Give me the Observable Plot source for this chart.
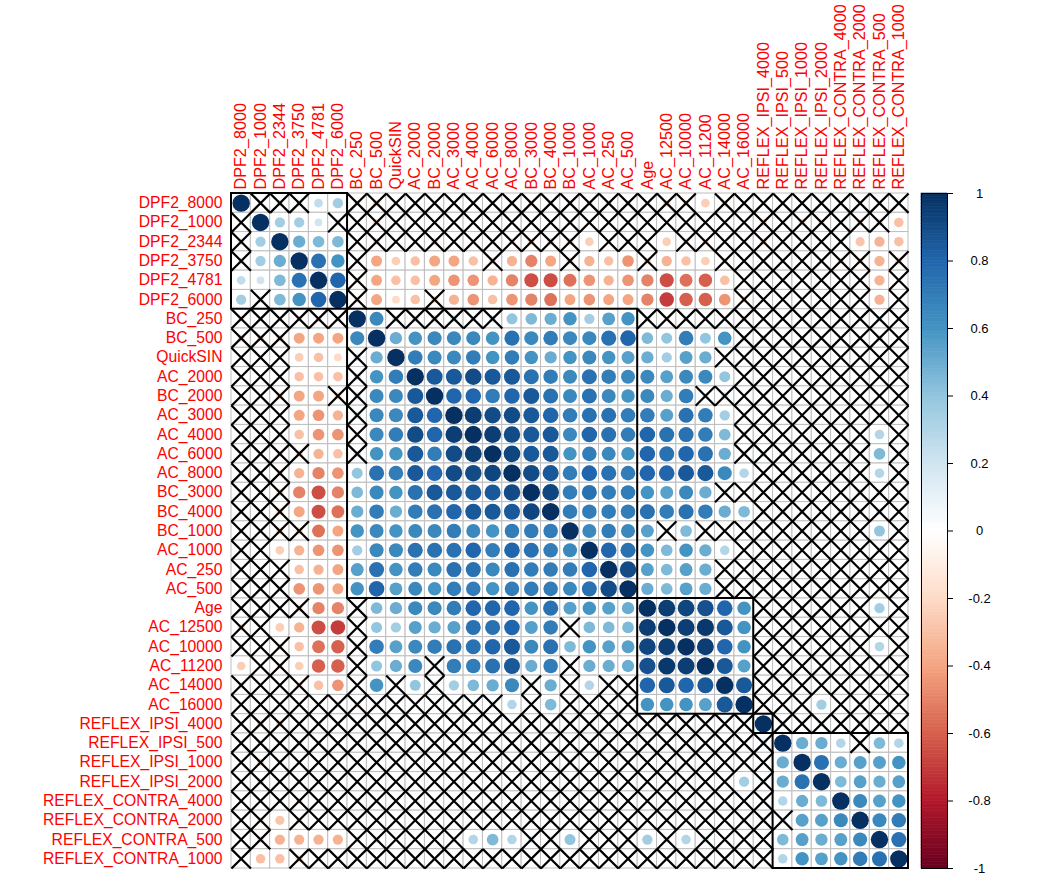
<!DOCTYPE html>
<html>
<head>
<meta charset="utf-8">
<script src="https://cdn.jsdelivr.net/npm/d3@7"></script>
<script src="https://cdn.jsdelivr.net/npm/@observablehq/plot@0.6"></script>
<style>
html, body { margin: 0; padding: 0; background: #fff; }
#wrap { position: relative; width: 1054px; height: 884px; }
#wrap svg { position: absolute; top: 0; }
</style>
</head>
<body>
<div id="wrap"></div>
<script>
// Variable names, in plotted (hclust) order
const labels = ["DPF2_8000","DPF2_1000","DPF2_2344","DPF2_3750","DPF2_4781","DPF2_6000",
  "BC_250","BC_500","QuickSIN","AC_2000","BC_2000","AC_3000","AC_4000","AC_6000","AC_8000",
  "BC_3000","BC_4000","BC_1000","AC_1000","AC_250","AC_500","Age","AC_12500","AC_10000",
  "AC_11200","AC_14000","AC_16000","REFLEX_IPSI_4000","REFLEX_IPSI_500","REFLEX_IPSI_1000",
  "REFLEX_IPSI_2000","REFLEX_CONTRA_4000","REFLEX_CONTRA_2000","REFLEX_CONTRA_500","REFLEX_CONTRA_1000"];

// Upper triangle: row i lists correlations with columns i+1..34; a trailing "x" marks a non-significant cell
const upperRows = [
  "0.02x 0.15x 0.15x 0.25 0.35 -0.13x -0.18x -0.05x -0.05x -0.03x 0.02x -0.03x -0.05x -0.13x -0.13x -0.13x -0.13x -0.13x -0.13x -0.13x -0.05x -0.18x -0.15x -0.25 -0.15x -0.03x 0.02x 0.05x 0.02x 0.02x 0.02x 0.02x 0.02x 0.02x",
  "0.35 0.35 0.2 0.15x 0.02x -0.18x -0.03x -0.03x -0.03x -0.03x -0.05x -0.03x -0.03x -0.1x -0.03x -0.1x -0.03x -0.03x -0.03x -0.03x -0.03x -0.03x -0.03x -0.03x -0.03x -0.18x -0.02x -0.18x -0.15x -0.05x -0.15x -0.15x -0.3",
  "0.5 0.45 0.45 0.02x -0.18x -0.03x -0.05x -0.18x -0.05x -0.13x -0.13x -0.15x -0.18x -0.18x -0.18x -0.25 -0.05x -0.13x -0.05x -0.25 -0.15x -0.15x -0.05x -0.03x -0.18x -0.03x -0.1x -0.03x -0.1x -0.28 -0.35 -0.3",
  "0.75 0.6 -0.13x -0.4 -0.25 -0.3 -0.4 -0.4 -0.3 -0.18x -0.35 -0.5 -0.4 -0.18x -0.35 -0.3 -0.45 -0.18x -0.35 -0.3 -0.25 -0.15x -0.03x -0.03x -0.1x -0.03x -0.1x -0.15x -0.15x -0.35 -0.18x",
  "0.8 -0.15x -0.4 -0.3 -0.3 -0.4 -0.45 -0.45 -0.35 -0.5 -0.65 -0.65 -0.55 -0.45 -0.35 -0.45 -0.5 -0.65 -0.55 -0.6 -0.3 -0.03x -0.03x -0.1x -0.03x -0.03x -0.03x -0.05x -0.35 -0.1x",
  "-0.13x -0.4 -0.2 -0.3 -0.18x -0.35 -0.45 -0.3 -0.45 -0.5 -0.55 -0.4 -0.45 -0.4 -0.4 -0.5 -0.7 -0.6 -0.6 -0.45 -0.15x -0.03x -0.03x -0.03x -0.03x -0.03x -0.03x -0.35 -0.1x",
  "0.65 0.18x 0.18x 0.18x 0.18x 0.13x 0.18x 0.4 0.45 0.5 0.6 0.35 0.55 0.6 0.13x 0.1x 0.15x 0.05x 0.03x -0.15x 0.02x 0.02x 0.02x 0.02x -0.13x 0.02x 0.13x 0.02x",
  "0.5 0.6 0.65 0.65 0.65 0.6 0.75 0.65 0.7 0.65 0.65 0.75 0.8 0.45 0.4 0.7 0.4 0.6 0.15x 0.15x 0.03x 0.02x 0.02x 0.02x 0.02x 0.15x 0.02x",
  "0.7 0.65 0.65 0.7 0.6 0.7 0.6 0.5 0.6 0.65 0.6 0.55 0.5 0.35 0.55 0.5 0.13x 0.02x 0.02x 0.02x 0.02x 0.02x -0.05x 0.02x 0.02x 0.02x",
  "0.85 0.85 0.9 0.85 0.85 0.75 0.7 0.65 0.75 0.7 0.65 0.65 0.55 0.65 0.65 0.4 0.05x 0.02x 0.02x 0.02x 0.02x 0.02x 0.02x 0.02x 0.02x",
  "0.8 0.8 0.7 0.8 0.85 0.75 0.65 0.75 0.65 0.6 0.65 0.5 0.7 0.15x 0.18x 0.02x 0.02x 0.02x 0.02x 0.02x 0.02x 0.02x 0.02x 0.02x",
  "0.95 0.9 0.9 0.85 0.8 0.7 0.75 0.75 0.7 0.7 0.55 0.75 0.7 0.35 0.13x 0.02x 0.02x 0.02x 0.02x 0.02x 0.02x 0.13x 0.02x",
  "0.95 0.9 0.85 0.85 0.65 0.8 0.75 0.7 0.8 0.75 0.75 0.7 0.45 0.15x 0.05x 0.02x 0.02x 0.02x 0.02x 0.02x 0.3 0.05x",
  "0.92 0.85 0.85 0.6 0.7 0.65 0.6 0.8 0.75 0.8 0.75 0.5 0.15x 0.15x 0.15x 0.02x 0.02x 0.13x 0.02x 0.45 0.15x",
  "0.9 0.85 0.7 0.8 0.75 0.7 0.8 0.8 0.85 0.85 0.65 0.3 0.02x 0.02x 0.02x 0.02x 0.02x 0.02x 0.3 0.02x",
  "0.92 0.7 0.75 0.7 0.7 0.6 0.55 0.65 0.5 0.15x 0.03x 0.02x 0.02x 0.02x 0.02x -0.05x 0.15x 0.15x 0.02x",
  "0.7 0.7 0.7 0.7 0.75 0.7 0.75 0.7 0.5 0.45 0.15x 0.15x 0.13x 0.05x 0.15x 0.15x 0.15x 0.02x",
  "0.65 0.7 0.65 0.55 0.13x 0.45 0.13x 0.05x -0.05x 0.02x 0.02x 0.13x 0.02x 0.02x 0.02x 0.4 0.02x",
  "0.8 0.75 0.6 0.45 0.6 0.5 0.3 0.03x 0.02x 0.02x 0.02x 0.02x 0.02x 0.02x 0.13x 0.02x",
  "0.9 0.55 0.45 0.55 0.5 0.13x 0.02x 0.02x 0.02x 0.02x 0.02x 0.02x 0.02x 0.1x 0.02x",
  "0.5 0.45 0.55 0.5 0.13x 0.02x 0.02x 0.02x 0.02x 0.02x 0.02x 0.02x 0.13x 0.02x",
  "0.95 0.92 0.88 0.8 0.6 0.02x 0.02x 0.02x 0.02x 0.02x 0.02x 0.35 0.02x",
  "0.95 0.97 0.85 0.6 0.02x 0.02x 0.02x 0.02x 0.02x 0.02x 0.15x 0.02x",
  "0.95 0.8 0.6 0.02x 0.02x 0.02x 0.02x 0.02x 0.02x 0.3 0.02x",
  "0.85 0.55 0.02x 0.02x 0.02x 0.02x 0.02x 0.02x 0.15x 0.15x",
  "0.85 0.02x 0.02x 0.02x 0.02x 0.02x 0.02x 0.02x 0.02x",
  "0.03x 0.03x 0.03x 0.35 0.03x 0.15x 0.03x 0.03x",
  "0.15x 0.03x 0.15x 0.03x 0.15x 0.03x 0.03x",
  "0.5 0.5 0.3 0.15x 0.45 0.3",
  "0.75 0.5 0.55 0.55 0.6",
  "0.45 0.55 0.5 0.55",
  "0.65 0.55 0.6",
  "0.65 0.7",
  "0.75",
  ""
];

// Hierarchical-cluster rectangles: [first index, last index]
const clusters = [[0, 5], [6, 20], [21, 26], [27, 27], [28, 34]];

// Colour bar ticks and RdBu palette stops (-1 .. 1)
const legendTicks = [1, 0.8, 0.6, 0.4, 0.2, 0, -0.2, -0.4, -0.6, -0.8, -1];
const paletteStops = [-1, -0.8, -0.6, -0.4, -0.2, 0, 0.2, 0.4, 0.6, 0.8, 1];
const rdbu = ["#67001F", "#B2182B", "#D6604D", "#F4A582", "#FDDBC7", "#FFFFFF",
              "#D1E5F0", "#92C5DE", "#4393C3", "#2166AC", "#053061"];

// ---- build the full symmetric table ----
const n = labels.length;
const V = Array.from({length: n}, () => new Array(n).fill(0));
const X = Array.from({length: n}, () => new Array(n).fill(false));
for (let i = 0; i < n; i++) {
  V[i][i] = 1;
  const toks = upperRows[i].trim().split(/\s+/).filter(t => t.length);
  toks.forEach((t, k) => {
    const j = i + 1 + k;
    if (j >= n) return;
    const v = parseFloat(t);
    const ins = t.endsWith("x");
    V[i][j] = V[j][i] = v;
    X[i][j] = X[j][i] = ins;
  });
}
const cells = [];
for (let i = 0; i < n; i++) for (let j = 0; j < n; j++) cells.push({i, j, v: V[i][j], insig: X[i][j]});

const colorScale = {type: "linear", domain: paletteStops, range: rdbu, interpolate: "rgb"};
const font = "'Liberation Sans', Arial, Helvetica, sans-serif";

const main = Plot.plot({
  width: 920, height: 884,
  marginLeft: 231, marginRight: 12, marginTop: 193, marginBottom: 16,
  style: {fontFamily: font, background: "transparent", overflow: "visible"},
  x: {domain: [0, n], axis: null},
  y: {domain: [n, 0], axis: null},
  r: {type: "sqrt", domain: [0, 1], range: [0, 8.7]},
  color: colorScale,
  marks: [
    Plot.rect(cells, {x1: "j", x2: d => d.j + 1, y1: "i", y2: d => d.i + 1,
      fill: "white", stroke: "#BEBEBE", strokeWidth: 1}),
    Plot.dot(cells, {x: d => d.j + 0.5, y: d => d.i + 0.5, r: d => Math.abs(d.v), fill: "v"}),
    Plot.dot(cells.filter(d => d.insig), {x: d => d.j + 0.5, y: d => d.i + 0.5,
      symbol: "times", r: 8.9, stroke: "black", strokeWidth: 2.2}),
    Plot.rect(clusters, {x1: d => d[0], x2: d => d[1] + 1, y1: d => d[0], y2: d => d[1] + 1,
      fill: "none", stroke: "black", strokeWidth: 2}),
    Plot.text(labels, {x: (d, i) => i + 0.5, y: 0, text: d => d, rotate: -90, textAnchor: "start",
      dy: -4, fill: "red", fontSize: 16.2}),
    Plot.text(labels, {x: 0, y: (d, i) => i + 0.5, text: d => d, textAnchor: "end",
      dx: -9, fill: "red", fontSize: 15.7})
  ]
});

// ---- colour bar ----
const barSlices = d3.range(200).map(k => ({lo: -1 + k * 0.01, hi: -1 + (k + 1) * 0.01}));
const legend = Plot.plot({
  width: 120, height: 884,
  marginLeft: 16, marginRight: 78, marginTop: 193, marginBottom: 16,
  style: {fontFamily: font, background: "transparent", overflow: "visible"},
  x: {domain: [0, 1], axis: null},
  y: {domain: [-1, 1], axis: null},
  color: colorScale,
  marks: [
    Plot.rect(barSlices, {x1: 0, x2: 1, y1: "lo", y2: "hi", fill: d => (d.lo + d.hi) / 2,
      stroke: d => (d.lo + d.hi) / 2, strokeWidth: 0.6}),
    Plot.frame({stroke: "black", strokeWidth: 1}),
    Plot.axisY({anchor: "right", ticks: legendTicks, tickSize: 5, tickPadding: 27,
      textAnchor: "middle", fontSize: 13, tickFormat: d => String(d), stroke: "black", fill: "black"})
  ]
});

const wrap = document.getElementById("wrap");
main.style.left = "0px";
legend.style.left = "905px";
wrap.appendChild(main);
wrap.appendChild(legend);
</script>
</body>
</html>
